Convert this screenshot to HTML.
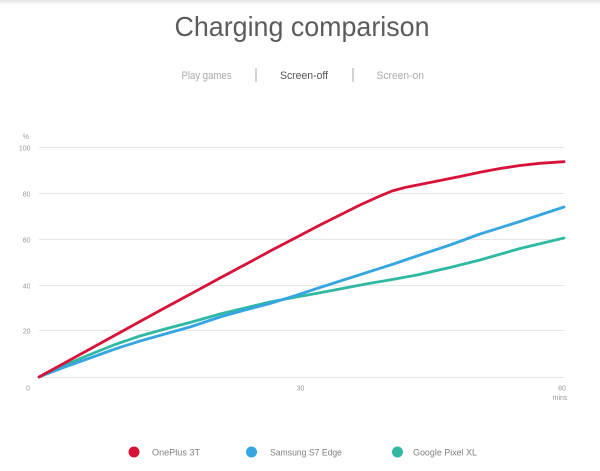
<!DOCTYPE html>
<html>
<head>
<meta charset="utf-8">
<style>
  html,body{margin:0;padding:0;background:#fff;}
  body{width:600px;height:471px;overflow:hidden;position:relative;font-family:"Liberation Sans",sans-serif;}
  svg{position:absolute;left:0;top:0;}
</style>
</head>
<body>
<svg width="600" height="471" viewBox="0 0 600 471" xmlns="http://www.w3.org/2000/svg">
  <defs>
    <linearGradient id="topg" x1="0" y1="0" x2="0" y2="1">
      <stop offset="0" stop-color="#e4e4e4"/>
      <stop offset="1" stop-color="#ffffff"/>
    </linearGradient>
  </defs>
  <rect x="0" y="0" width="600" height="5" fill="url(#topg)"/>

  <!-- Title -->
  <text x="302" y="36" text-anchor="middle" font-family="Liberation Sans, sans-serif" font-size="28" fill="#5c5c5c" textLength="255" lengthAdjust="spacingAndGlyphs">Charging comparison</text>

  <!-- Tabs -->
  <text x="181.5" y="79" font-family="Liberation Sans, sans-serif" font-size="11" fill="#aaaaaa" textLength="50" lengthAdjust="spacingAndGlyphs">Play games</text>
  <rect x="255.5" y="68" width="1" height="14" fill="#aaaaaa"/>
  <text x="280" y="79" font-family="Liberation Sans, sans-serif" font-size="11" fill="#555555" textLength="48" lengthAdjust="spacingAndGlyphs">Screen-off</text>
  <rect x="352.5" y="68" width="1" height="14" fill="#aaaaaa"/>
  <text x="376.5" y="79" font-family="Liberation Sans, sans-serif" font-size="11" fill="#aaaaaa" textLength="47.5" lengthAdjust="spacingAndGlyphs">Screen-on</text>

  <!-- Gridlines -->
  <g stroke="#e6e6e6" stroke-width="1">
    <line x1="39" y1="147.5" x2="564" y2="147.5"/>
    <line x1="39" y1="193.5" x2="564" y2="193.5"/>
    <line x1="39" y1="239.5" x2="564" y2="239.5"/>
    <line x1="39" y1="285.5" x2="564" y2="285.5"/>
    <line x1="39" y1="330.5" x2="564" y2="330.5"/>
    <line x1="39" y1="377.5" x2="564" y2="377.5"/>
  </g>

  <!-- Y labels -->
  <g font-family="Liberation Sans, sans-serif" font-size="7" fill="#9a9a9a" text-anchor="end">
    <text x="29" y="139">%</text>
    <text x="30.5" y="150.5">100</text>
    <text x="30.5" y="196.5">80</text>
    <text x="30.5" y="242.5">60</text>
    <text x="30.5" y="288.5">40</text>
    <text x="30.5" y="333.5">20</text>
    <text x="30" y="390.5">0</text>
  </g>
  <!-- X labels -->
  <g font-family="Liberation Sans, sans-serif" font-size="7" fill="#9a9a9a" text-anchor="middle">
    <text x="300.5" y="390.5">30</text>
    <text x="562" y="390.5">60</text>
    <text x="560" y="400">mins</text>
  </g>

  <!-- Series -->
  <g fill="none" stroke-width="2.8" stroke-linejoin="round" stroke-linecap="round">
    <polyline stroke="#2fb8a2" points="39,377 65,365 90,354.5 115,344.5 140,336 165,329 190,322.5 220,314 245,308 270,302 295,297.2 320,292.7 345,288 370,283.3 395,279 417,275 450,267.5 480,260 520,248.5 564,238"/>
    <polyline stroke="#35a6e2" points="39,377 65,367 90,358 115,349 140,341 165,334 190,327 220,317 245,310 270,303.5 295,295.7 320,287.5 345,279.5 370,271.5 395,263.5 417,256 450,245 480,234 520,221.5 564,207"/>
    <polyline stroke="#d8133a" points="39,377 70,360 100,343.5 130,327 160,310.5 198,290 220,278 250,262 273,249.5 300,235.5 320,225 340,215 360,205 380,196 392,191 405,187.5 420,184.5 440,180.5 460,176.5 480,172.3 500,168.5 520,165.5 540,163.3 564,161.7"/>
  </g>

  <!-- Legend -->
  <circle cx="134" cy="452" r="5.5" fill="#d8133a"/>
  <text x="152" y="455.5" font-family="Liberation Sans, sans-serif" font-size="9.5" fill="#808080" textLength="48" lengthAdjust="spacingAndGlyphs">OnePlus 3T</text>
  <circle cx="251.5" cy="452" r="5.5" fill="#35a6e2"/>
  <text x="270" y="455.5" font-family="Liberation Sans, sans-serif" font-size="9.5" fill="#808080" textLength="72" lengthAdjust="spacingAndGlyphs">Samsung S7 Edge</text>
  <circle cx="397.5" cy="452" r="5.5" fill="#2fb8a2"/>
  <text x="413" y="455.5" font-family="Liberation Sans, sans-serif" font-size="9.5" fill="#808080" textLength="64" lengthAdjust="spacingAndGlyphs">Google Pixel XL</text>
</svg>
</body>
</html>
